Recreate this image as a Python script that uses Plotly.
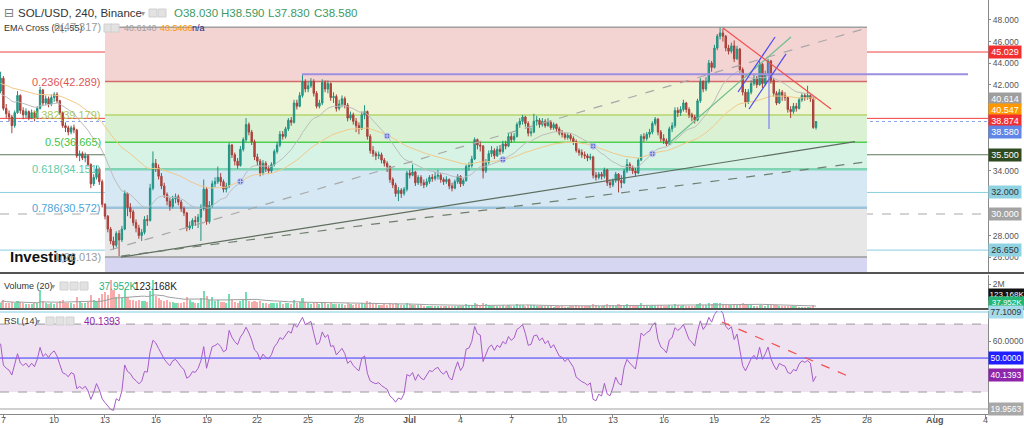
import pandas as pd
import plotly.graph_objects as go
from plotly.subplots import make_subplots

# ---------------- data (4h candles, SOL/USD Binance) ----------------
start_time = "2022-06-06 20:00"
first_open = 41.4
closes = [42.6,
    39.8, 39.3, 39.0, 38.2, 39.4, 41.0,
    39.6, 39.2, 39.5, 38.9, 39.4, 38.9,
    39.8, 41.5, 40.3, 40.7, 40.2, 40.8,
    41.1, 40.5, 39.4, 38.2, 38.0, 37.6,
    38.0, 37.8, 35.4, 35.6, 35.2, 35.4,
    34.6, 32.8, 33.4, 34.2, 33.0, 30.9,
    29.8, 28.6, 27.5, 27.1, 28.2, 27.6,
    28.6, 31.9, 30.6, 30.2, 29.2, 28.7,
    28.0, 28.3, 29.5, 29.4, 32.4, 34.7,
    34.3, 33.5, 32.6, 31.8, 31.2, 30.7,
    31.4, 31.6, 31.1, 30.5, 30.1, 28.7,
    28.9, 29.4, 29.3, 29.7, 30.5, 32.3,
    29.3, 30.8, 32.8, 33.0, 33.4, 33.0,
    32.3, 32.6, 36.4, 35.5, 34.9, 34.5,
    36.0, 36.9, 38.3, 37.6, 36.7, 35.3,
    34.9, 33.8, 34.7, 34.2, 34.0, 34.6,
    35.8, 36.4, 37.4, 37.2, 37.9, 38.7,
    38.5, 40.3, 40.0, 41.0, 42.3, 41.6,
    41.9, 42.3, 41.2, 40.0, 40.3, 42.2,
    41.6, 42.1, 40.8, 40.9, 39.8, 40.2,
    40.7, 40.1, 38.9, 39.2, 38.6, 38.2,
    37.9, 39.2, 39.5, 37.2, 35.9, 35.6,
    35.4, 35.5, 35.0, 34.7, 34.4, 33.2,
    32.7, 31.9, 32.2, 31.9, 32.3, 33.8,
    33.6, 33.9, 32.9, 33.4, 32.9, 32.7,
    33.0, 33.4, 33.3, 33.5, 33.6, 33.2,
    33.0, 33.2, 32.6, 32.4, 33.0, 33.5,
    32.8, 33.1, 34.4, 34.5, 35.1, 36.9,
    36.4, 36.3, 34.0, 34.8, 35.6, 35.9,
    35.4, 36.0, 35.8, 36.5, 36.3, 37.2,
    36.9, 37.2, 38.3, 38.6, 39.0, 38.4,
    37.5, 37.6, 38.6, 38.7, 38.3, 38.6,
    38.2, 38.5, 38.0, 38.3, 37.9, 37.5,
    37.4, 37.1, 37.3, 37.0, 36.7, 35.9,
    35.7, 35.5, 35.4, 35.2, 35.3, 33.6,
    33.4, 33.7, 33.5, 34.1, 32.9, 32.7,
    33.1, 33.7, 33.1, 32.9, 34.0, 34.6,
    34.3, 34.0, 33.8, 35.0, 37.2, 37.0,
    37.4, 37.6, 38.4, 38.8, 37.6, 37.0,
    36.8, 36.5, 37.9, 38.2, 39.6, 39.4,
    39.7, 40.3, 39.7, 39.2, 39.0, 38.7,
    40.5, 42.3, 41.6, 42.3, 44.0, 43.6,
    45.4, 46.5, 46.8, 46.5, 45.4, 45.1,
    45.6, 44.4, 45.3, 43.4, 41.3, 40.4,
    41.3, 42.1, 42.6, 42.0, 43.9, 42.1,
    43.0, 44.2, 42.4, 41.2, 40.3, 41.3,
    41.0, 40.8, 39.7, 39.5, 40.0, 39.8,
    40.6, 41.0, 40.8, 41.0, 40.7, 38.03,
    38.58]
highs = [43.2,
    42.8, 40.2, 39.6, 39.2, 39.6, 41.4,
    41.1, 39.9, 39.8, 39.6, 39.7, 39.6,
    40.0, 41.8, 41.6, 41.0, 40.9, 41.1,
    41.3, 41.3, 40.6, 39.5, 38.5, 38.2,
    38.2, 38.3, 37.9, 35.9, 35.8, 35.7,
    35.5, 34.7, 33.7, 34.5, 34.3, 33.2,
    31.0, 29.9, 28.8, 27.9, 28.4, 28.5,
    28.9, 32.2, 32.0, 31.0, 30.4, 29.5,
    29.0, 28.6, 29.8, 29.9, 32.8, 35.8,
    35.1, 34.6, 33.8, 32.9, 32.0, 31.5,
    31.7, 31.9, 31.8, 31.3, 30.7, 30.2,
    29.3, 29.6, 29.8, 30.0, 30.9, 33.2,
    32.5, 31.2, 33.1, 33.4, 34.4, 33.8,
    33.2, 32.9, 36.6, 36.5, 35.7, 35.2,
    36.3, 37.1, 38.9, 38.5, 37.8, 36.9,
    35.6, 35.1, 35.0, 34.9, 34.5, 34.8,
    36.0, 36.7, 37.7, 37.7, 38.1, 38.9,
    39.0, 40.6, 40.6, 41.3, 43.0, 42.5,
    42.3, 42.6, 42.5, 41.4, 40.6, 42.5,
    42.4, 42.4, 42.2, 41.3, 41.1, 40.6,
    41.0, 40.9, 40.3, 39.5, 39.4, 38.9,
    38.5, 39.5, 40.1, 39.6, 37.4, 36.3,
    35.8, 35.8, 35.7, 35.2, 34.9, 34.5,
    33.4, 32.9, 32.5, 32.4, 32.5, 34.0,
    34.1, 34.6, 34.0, 33.6, 33.6, 33.2,
    33.3, 33.6, 33.7, 33.9, 34.1, 33.8,
    33.4, 33.5, 33.3, 32.9, 33.2, 33.7,
    33.6, 33.3, 34.6, 34.8, 35.4, 37.1,
    37.0, 36.7, 36.4, 35.1, 35.9, 36.3,
    36.1, 36.3, 36.4, 36.8, 36.8, 37.5,
    37.5, 37.5, 38.5, 38.9, 39.2, 39.1,
    38.6, 38.0, 39.3, 39.1, 38.9, 38.9,
    38.8, 38.9, 38.7, 38.5, 38.4, 38.1,
    37.8, 37.6, 37.5, 37.5, 37.2, 36.9,
    36.1, 36.0, 35.8, 35.6, 35.6, 35.4,
    33.9, 33.9, 33.9, 34.3, 34.2, 33.2,
    33.3, 33.9, 33.8, 33.6, 34.2, 35.1,
    34.8, 34.5, 34.3, 35.2, 37.4, 37.5,
    37.6, 37.9, 38.6, 39.0, 38.9, 37.8,
    37.4, 37.0, 38.1, 38.5, 39.9, 39.9,
    40.0, 40.6, 40.4, 39.9, 39.4, 39.2,
    40.7, 42.6, 42.4, 42.7, 44.3, 44.2,
    45.7, 46.7, 47.3, 47.2, 46.6, 45.7,
    45.9, 46.1, 45.6, 45.4, 43.6, 41.6,
    41.6, 42.4, 42.9, 42.8, 44.2, 44.0,
    43.3, 44.4, 44.3, 42.6, 41.4, 41.6,
    41.5, 41.3, 40.9, 40.0, 40.3, 40.3,
    40.8, 41.2, 41.2, 41.9, 41.1, 40.9,
    38.59]
lows = [41.2,
    39.6, 38.9, 38.6, 37.5, 38.0, 39.3,
    39.3, 38.8, 38.9, 38.7, 38.8, 38.6,
    38.8, 39.7, 40.0, 40.1, 39.9, 40.0,
    40.4, 40.3, 39.2, 38.0, 37.6, 37.3,
    37.4, 37.5, 35.2, 34.9, 35.0, 34.8,
    34.4, 32.4, 32.6, 33.2, 32.7, 30.6,
    29.5, 28.3, 27.2, 26.7, 26.9, 26.1,
    27.4, 28.5, 29.8, 29.6, 28.9, 28.3,
    27.7, 27.5, 28.1, 28.9, 29.3, 32.2,
    33.9, 33.2, 32.3, 31.5, 30.8, 30.3,
    30.5, 31.0, 30.8, 30.2, 29.8, 28.4,
    28.5, 28.6, 28.9, 28.7, 27.5, 30.3,
    29.0, 29.1, 30.6, 32.5, 32.8, 32.6,
    32.0, 32.0, 32.4, 35.2, 34.5, 34.2,
    34.4, 35.8, 36.7, 37.3, 36.4, 35.0,
    34.5, 33.5, 33.6, 33.9, 33.7, 33.8,
    34.4, 35.6, 36.2, 36.9, 37.0, 37.7,
    38.2, 38.4, 39.7, 39.9, 40.8, 41.3,
    41.3, 41.7, 40.9, 39.8, 39.8, 40.1,
    41.3, 41.2, 40.5, 40.3, 39.5, 39.6,
    39.9, 39.8, 38.6, 38.7, 38.3, 37.6,
    37.4, 37.8, 38.8, 36.9, 35.6, 35.3,
    35.0, 35.1, 34.7, 34.4, 33.9, 32.9,
    32.4, 31.6, 31.2, 31.5, 31.7, 32.1,
    33.3, 33.5, 32.6, 32.7, 32.6, 32.4,
    32.5, 32.8, 33.0, 33.1, 33.2, 32.9,
    32.7, 32.8, 32.3, 32.1, 32.3, 32.8,
    32.5, 32.6, 33.0, 34.0, 34.3, 35.0,
    36.0, 35.8, 33.3, 33.8, 34.6, 35.3,
    35.1, 35.3, 35.5, 35.6, 36.0, 36.2,
    36.6, 36.7, 37.1, 38.0, 38.3, 38.1,
    37.2, 37.2, 37.5, 38.2, 38.0, 38.1,
    38.0, 38.1, 37.8, 37.8, 37.6, 37.3,
    37.1, 36.9, 36.9, 36.8, 36.4, 35.7,
    35.4, 35.2, 35.1, 34.9, 35.0, 33.3,
    33.1, 33.2, 33.2, 33.3, 32.6, 32.4,
    32.5, 32.9, 32.0, 32.4, 32.8, 33.8,
    34.0, 33.7, 33.5, 33.7, 34.9, 36.7,
    36.8, 37.1, 37.4, 38.2, 37.3, 36.7,
    36.5, 36.3, 36.4, 37.6, 38.0, 39.0,
    39.1, 39.5, 39.4, 38.9, 38.6, 38.4,
    38.6, 40.3, 41.3, 41.4, 42.1, 43.2,
    43.5, 45.2, 46.2, 46.0, 45.1, 44.8,
    44.9, 44.1, 44.3, 43.1, 41.0, 39.9,
    40.2, 41.1, 41.9, 41.7, 41.9, 41.7,
    41.9, 42.8, 42.1, 40.9, 40.1, 40.2,
    40.5, 40.5, 39.4, 38.9, 39.3, 39.5,
    39.7, 40.4, 40.5, 40.6, 40.4, 37.9,
    37.83]
volumes_k = [450,
    700, 450, 380, 500, 420, 600,
    500, 380, 300, 350, 320, 380,
    400, 1500, 600, 400, 350, 380,
    350, 400, 550, 650, 450, 400,
    380, 350, 900, 600, 450, 400,
    500, 1100, 700, 600, 800, 1200,
    1300, 1100, 2300, 1500, 900, 1200,
    800, 1500, 900, 700, 650, 600,
    700, 600, 550, 500, 1400, 2350,
    1000, 800, 700, 600, 650, 500,
    500, 450, 400, 450, 500, 900,
    700, 500, 450, 400, 800, 1400,
    1000, 700, 900, 600, 700, 500,
    500, 450, 1200, 700, 500, 450,
    600, 700, 1300, 600, 500, 600,
    500, 600, 450, 400, 350, 380,
    450, 400, 500, 350, 400, 450,
    350, 700, 450, 500, 800, 500,
    400, 350, 400, 450, 300, 500,
    400, 350, 450, 300, 350, 300,
    300, 280, 400, 300, 280, 300,
    320, 380, 350, 600, 500, 350,
    300, 250, 280, 300, 260, 400,
    350, 380, 300, 250, 260, 400,
    300, 250, 280, 220, 230, 200,
    180, 170, 150, 160, 170, 160,
    150, 140, 170, 180, 150, 160,
    170, 160, 300, 220, 260, 450,
    300, 250, 420, 300, 250, 200,
    220, 200, 180, 230, 190, 260,
    200, 180, 300, 250, 220, 200,
    260, 220, 250, 180, 170, 160,
    150, 130, 140, 120, 130, 140,
    130, 120, 110, 130, 140, 250,
    200, 170, 160, 150, 140, 350,
    260, 200, 180, 220, 300, 250,
    220, 200, 350, 280, 250, 300,
    220, 200, 190, 260, 450, 280,
    220, 200, 260, 250, 240, 220,
    180, 170, 220, 200, 300, 220,
    200, 220, 180, 170, 160, 170,
    300, 420, 280, 260, 380, 300,
    450, 400, 380, 300, 320, 260,
    240, 300, 260, 330, 400, 350,
    280, 240, 200, 180, 260, 240,
    200, 230, 250, 240, 220, 200,
    160, 140, 150, 170, 140, 130,
    120, 110, 100, 120, 110, 260,
    37.952]

ema21_start, ema55_start = 41.0, 42.1
rsi_gain_start, rsi_loss_start = 0.40, 0.35

# horizontal levels and drawings (date, price)
fib_levels = [(0, 47.317), (0.236, 42.289), (0.382, 39.179), (0.5, 36.665),
              (0.618, 34.151), (0.786, 30.572), (1, 26.013)]
fib_start, fib_end = "2022-06-13 00:00", "2022-07-28 00:15"

tick_dates = ["2022-06-07", "2022-06-10", "2022-06-13", "2022-06-16", "2022-06-19", "2022-06-22",
              "2022-06-25", "2022-06-28", "2022-07-01", "2022-07-04", "2022-07-07", "2022-07-10",
              "2022-07-13", "2022-07-16", "2022-07-19", "2022-07-22", "2022-07-25", "2022-07-28",
              "2022-08-01", "2022-08-04"]
tick_text = ["7", "10", "13", "16", "19", "22", "25", "28", "<b>Jul</b>", "4", "7", "10", "13",
             "16", "19", "22", "25", "28", "<b>Aug</b>", "4"]

# ---------------- derived series ----------------
n = len(closes)
times = pd.date_range(start_time, periods=n, freq="4h")
opens = [first_open] + closes[:-1]
highs = [max(h, o, c) for h, o, c in zip(highs, opens, closes)]
lows = [min(l, o, c) for l, o, c in zip(lows, opens, closes)]
volumes = [v * 1000 for v in volumes_k]


def ema(vals, span, seed):
    a = 2 / (span + 1)
    e, out = seed, []
    for v in vals:
        e = e + a * (v - e)
        out.append(e)
    return out


ema21 = ema(closes, 21, ema21_start)
ema55 = ema(closes, 55, ema55_start)
rsi = []
ag, al = rsi_gain_start, rsi_loss_start
for o_, c_ in zip(opens, closes):
    ch = c_ - o_
    ag = (ag * 13 + max(ch, 0)) / 14
    al = (al * 13 + max(-ch, 0)) / 14
    rsi.append(100 - 100 / (1 + ag / al))
vol_ma = pd.Series(volumes).rolling(20, min_periods=1).mean().tolist()
cross_t, cross_v = [], []
for i in range(1, n):
    if (ema21[i] - ema55[i]) * (ema21[i - 1] - ema55[i - 1]) < 0:
        cross_t.append(times[i])
        cross_v.append(ema21[i])

# ---------------- figure ----------------
W, H = 1024, 428
PW, PH = 988, 414
FONT = "Liberation Sans"


def px(x):
    return x / PW


def py(y):
    return (PH - y) / PH


fig = make_subplots(rows=3, cols=1, shared_xaxes=True, vertical_spacing=0)

up_c, dn_c = "#26a69a", "#c0433c"
fig.add_trace(go.Candlestick(x=times, open=opens, high=highs, low=lows, close=closes,
                             increasing=dict(line=dict(color="#21917f", width=1), fillcolor=up_c),
                             decreasing=dict(line=dict(color="#a8403b", width=1), fillcolor=dn_c),
                             whiskerwidth=0, showlegend=False, hoverinfo="skip"), row=1, col=1)
fig.add_trace(go.Scatter(x=times, y=ema21, mode="lines", line=dict(color="#bdbdbd", width=1),
                         showlegend=False, hoverinfo="skip"), row=1, col=1)
fig.add_trace(go.Scatter(x=times, y=ema55, mode="lines", line=dict(color="#f2c98a", width=1),
                         showlegend=False, hoverinfo="skip"), row=1, col=1)
fig.add_trace(go.Scatter(x=cross_t, y=cross_v, mode="markers",
                         marker=dict(symbol="circle-cross", size=6, color="#5466c8",
                                     line=dict(color="#c5cbf0", width=1)),
                         showlegend=False, hoverinfo="skip"), row=1, col=1)

vcolors = ["rgba(40,205,135,0.65)" if c >= o else "rgba(242,115,115,0.6)" for o, c in zip(opens, closes)]
fig.add_trace(go.Bar(x=times, y=volumes, marker=dict(color=vcolors, line=dict(width=0)),
                     width=4 * 3600 * 1000 * 0.75, showlegend=False, hoverinfo="skip"), row=2, col=1)
fig.add_trace(go.Scatter(x=times, y=vol_ma, mode="lines", line=dict(color="#9e9e9e", width=1),
                         showlegend=False, hoverinfo="skip"), row=2, col=1)
fig.add_trace(go.Scatter(x=times, y=rsi, mode="lines", line=dict(color="#a65cc9", width=1),
                         showlegend=False, hoverinfo="skip"), row=3, col=1)

shapes = []
zone_cols = ["#f4d3d3", "#eef4d6", "#daf2d3", "#d6f3e5", "#d5e8f4", "#e7e7e7"]
for k in range(6):
    shapes.append(dict(type="rect", xref="x", yref="y", x0=fib_start, x1=fib_end,
                       y0=fib_levels[k + 1][1], y1=fib_levels[k][1], fillcolor=zone_cols[k],
                       line=dict(width=0), layer="below"))
shapes.append(dict(type="rect", xref="x", yref="y", x0=fib_start, x1=fib_end,
                   y0=24.62, y1=26.013, fillcolor="#d6d6f3", line=dict(width=0), layer="below"))
fib_line_cols = ["#a0a0a0", "#d46a6a", "#b5d46a", "#4fcf4f", "#7fd4b4", "#9cc3dc", "#9a9a9a"]
fib_line_w = [1.5, 1.5, 1.5, 1.5, 2.5, 2.5, 1.5]
for (lv, p), col, w in zip(fib_levels, fib_line_cols, fib_line_w):
    shapes.append(dict(type="line", xref="x", yref="y", x0=fib_start, x1=fib_end, y0=p, y1=p,
                       line=dict(color=col, width=w), layer="below"))

hlines = [(45.029, "#f04040", "solid", 1), (38.874, "#f04040", "solid", 1),
          (38.580, "#8aa6e8", "dot", 1), (35.5, "#5d785d", "solid", 1.2),
          (32.0, "#88cfe0", "solid", 1), (30.0, "#a8a8a8", "dash", 1),
          (26.65, "#88cfe0", "solid", 1)]
for p, col, dash, w in hlines:
    shapes.append(dict(type="line", xref="x domain", yref="y", x0=0, x1=1, y0=p, y1=p,
                       line=dict(color=col, width=w, dash=dash), layer="below"))

drawings = [
    ("2022-06-13 22:50", 26.0, "2022-07-27 07:15", 36.71, "#5e6e5e", "solid", 1.2),
    ("2022-06-13 07:10", 26.66, "2022-07-28 00:15", 47.26, "#a8a8a8", "dash", 1.2),
    ("2022-06-13 22:50", 26.1, "2022-07-27 22:50", 34.83, "#6f7f6f", "dash", 1.2),
    ("2022-06-24 15:20", 42.96, "2022-08-02 23:30", 42.96, "#9b8fe0", "solid", 2),
    ("2022-07-16 06:15", 36.5, "2022-07-23 12:30", 46.42, "#6cbf8c", "solid", 1.2),
    ("2022-07-20 09:20", 41.32, "2022-07-22 13:55", 46.42, "#4a4af0", "solid", 1.2),
    ("2022-07-21 01:00", 39.74, "2022-07-23 05:30", 44.85, "#4a4af0", "solid", 1.2),
    ("2022-07-22 05:20", 44.1, "2022-07-22 05:20", 37.89, "#7c7cf5", "solid", 1.2),
    ("2022-07-19 12:10", 47.26, "2022-07-25 21:15", 39.74, "#f25050", "solid", 1.2),
]
for x0, y0, x1, y1, col, dash, w in drawings:
    shapes.append(dict(type="line", xref="x", yref="y", x0=x0, y0=y0, x1=x1, y1=y1,
                       line=dict(color=col, width=w, dash=dash)))

shapes += [
    dict(type="rect", xref="x3 domain", yref="y3", x0=0, x1=1, y0=30, y1=70,
         fillcolor="#f0e3f1", line=dict(width=0), layer="below"),
    dict(type="line", xref="x3 domain", yref="y3", x0=0, x1=1, y0=70, y1=70,
         line=dict(color="#9a9a9a", width=1, dash="dash"), layer="below"),
    dict(type="line", xref="x3 domain", yref="y3", x0=0, x1=1, y0=30, y1=30,
         line=dict(color="#9a9a9a", width=1, dash="dash"), layer="below"),
    dict(type="line", xref="x3 domain", yref="y3", x0=0, x1=1, y0=50, y1=50,
         line=dict(color="#3535ff", width=1), layer="below"),
    dict(type="line", xref="x3 domain", yref="y3", x0=0, x1=1, y0=77.1009, y1=77.1009,
         line=dict(color="#a9dcec", width=1.5), layer="below"),
    dict(type="line", xref="x3 domain", yref="y3", x0=0, x1=1, y0=19.9563, y1=19.9563,
         line=dict(color="#d0d0d0", width=2), layer="below"),
    dict(type="line", xref="x3", yref="y3", x0="2022-07-19 10:40", y0=71.2, x1="2022-07-26 21:20",
         y1=39.4, line=dict(color="#f05050", width=1.2, dash="dash")),
]
for yy in (273, 309):
    shapes.append(dict(type="line", xref="paper", yref="paper", x0=0, x1=W / PW, y0=py(yy), y1=py(yy),
                       line=dict(color="#555555", width=2)))
icon_rows = [((149, 158), 13), ((104, 111), 28), ((60, 70, 80), 286), ((46, 56, 66), 321)]
for xs, yc in icon_rows:
    for x0 in xs:
        shapes.append(dict(type="rect", xref="paper", yref="paper", x0=px(x0), x1=px(x0 + 8),
                           y0=py(yc + 4), y1=py(yc - 4), fillcolor="#e2e2e2",
                           line=dict(color="#d0d0d0", width=1)))

ann = []


def text(x, y, s, size=10, color="#333333", anchor="left", bold=False, fam=FONT):
    ann.append(dict(xref="paper", yref="paper", x=px(x), y=py(y), text=("<b>%s</b>" % s) if bold else s,
                    showarrow=False, xanchor=anchor, yanchor="middle",
                    font=dict(size=size, color=color, family=fam)))


text(2, 13, "⊟", 12, "#777777", fam="DejaVu Sans")
text(16, 13, "SOL/USD, 240, Binance", 11.5, "#333333")
text(139, 13, "▾", 8, "#999999", fam="DejaVu Sans")
ohlc_col = "#3d9a62"
text(172, 13, "O38.030", 11.5, ohlc_col)
text(219, 13, "H38.590", 11.5, ohlc_col)
text(266, 13, "L37.830", 11.5, ohlc_col)
text(312, 13, "C38.580", 11.5, ohlc_col)
text(2, 28, "EMA Cross (21, 55)", 9, "#333333")
text(122, 28, "40.6140", 9, "#a0a0a0")
text(158, 28, "40.5466", 9, "#ff9800")
text(190, 28, "n/a", 9, "#1a237e")
text(2, 286, "Volume (20)", 9, "#333333")
text(49, 286, "▾", 8, "#999999", fam="DejaVu Sans")
text(97, 286, "37.952K", 10, "#26b27a")
text(132, 286, "123.168K", 10, "#222222")
text(2, 321, "RSI (14)", 9, "#333333")
text(34, 321, "▾", 8, "#999999", fam="DejaVu Sans")
text(82, 321, "40.1393", 10, "#8e24aa")
text(8, 256, "Investing", 15, "#111111", bold=True)

for d, t in zip(tick_dates, tick_text):
    ann.append(dict(xref="x3", yref="paper", x=d, y=py(420), text=t, showarrow=False,
                    xanchor="center", yanchor="middle", font=dict(size=9, color="#555555", family=FONT)))

fib_lab_cols = ["#9a9a9a", "#e05555", "#a9c95a", "#3fc43f", "#5fcaa5", "#4da3d8", "#9a9a9a"]
for (lv, p), col in zip(fib_levels, fib_lab_cols):
    ann.append(dict(xref="x", yref="y", x=fib_start, y=p, text="%g(%.3f)" % (lv, p),
                    showarrow=False, xanchor="right", yanchor="middle", xshift=-2,
                    font=dict(size=11, color=col, family=FONT)))


def rlabel(s, y, bg, fg="#ffffff", w=30, size=9):
    ann.append(dict(xref="paper", yref="paper", x=1.0, y=py(y), text=s, showarrow=False,
                    xanchor="left", yanchor="middle", bgcolor=bg, borderpad=1, width=w,
                    font=dict(size=size, color=fg, family=FONT)))


rlabel("45.029", 52, "#f23030")
rlabel("40.614", 99, "#9e9e9e")
rlabel("40.547", 110, "#ff9800")
rlabel("38.874", 121, "#f23030")
rlabel("38.580", 132, "#5f86e6")
rlabel("35.500", 155, "#2f4a20")
rlabel("32.000", 192, "#8fd3e3", "#333333")
rlabel("30.000", 214, "#a3a3a3")
rlabel("26.650", 250, "#8fd3e3", "#333333")
rlabel("123.168K", 294, "#111111", w=34, size=8)
rlabel("37.952K", 303, "#22b573", w=34, size=8)
rlabel("77.1009", 312, "#a6dbeb", "#333333", w=32, size=8.5)
rlabel("50.0000", 358, "#1f1fff", w=32, size=8.5)
rlabel("40.1393", 375, "#8e24aa", w=32, size=8.5)
rlabel("19.9563", 409, "#a8a8a8", w=32, size=8.5)

x_range = ["2022-06-06 19:11", "2022-08-04 03:47"]
axis_font = dict(size=8.5, color="#555555", family=FONT)
for k in (1, 2, 3):
    fig.update_xaxes(row=k, col=1, range=x_range, showgrid=False, zeroline=False,
                     rangeslider=dict(visible=False), showline=False, automargin=False,
                     showticklabels=False)
fig.update_xaxes(row=3, col=1, tickvals=tick_dates, ticks="outside", ticklen=3,
                 tickcolor="#888888", showline=True, linecolor="#888888")

common_y = dict(side="right", showgrid=False, zeroline=False, showline=True, linecolor="#888888",
                ticks="outside", ticklen=2, tickcolor="#888888", tickfont=axis_font, automargin=False)
fig.update_layout(
    yaxis=dict(domain=[py(272), 1.0], range=[24.62, 49.855], tickvals=[26, 28, 34, 42, 44, 46, 48],
               tickformat=".3f", **common_y),
    yaxis2=dict(domain=[py(308), py(275)], range=[0, 2.75e6], tickvals=[2e6], ticktext=["2M"],
                **common_y),
    yaxis3=dict(domain=[0, py(311)], range=[17.06, 77.7], tickvals=[60], tickformat=".4f",
                **common_y),
)

fig.update_layout(width=W, height=H, margin=dict(l=0, r=W - PW, t=0, b=H - PH),
                  paper_bgcolor="white", plot_bgcolor="white", template="none",
                  shapes=shapes, annotations=ann, showlegend=False, bargap=0,
                  font=dict(family=FONT))
fig.write_html("out.html")
